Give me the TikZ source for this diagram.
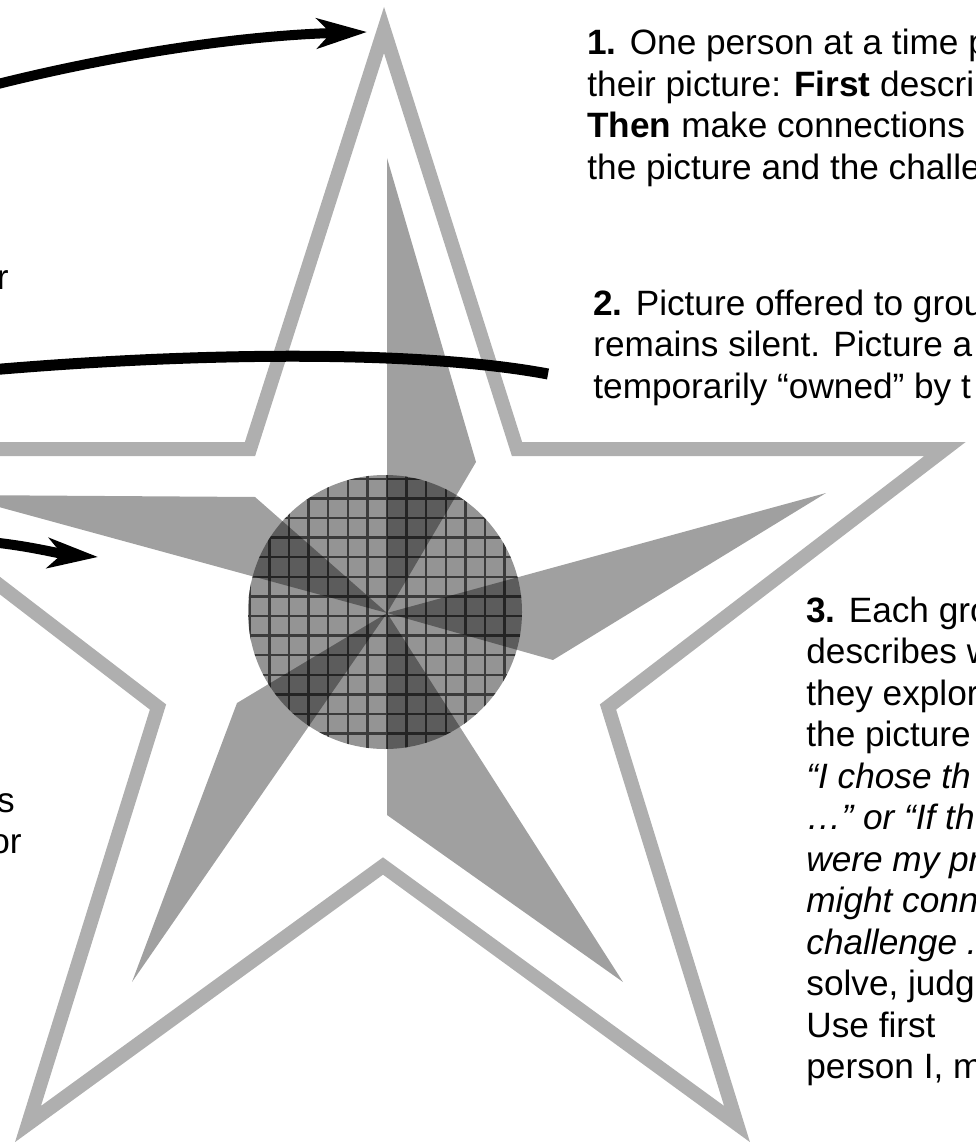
\documentclass[tikz,border=0pt]{standalone}
\usepackage{fontspec}
\setmainfont{Liberation Sans}
\usepackage{xcolor,tikz}
\usetikzlibrary{arrows.meta,positioning}
\definecolor{StarRim}{HTML}{AFAFAF}
\definecolor{StarArm}{HTML}{A0A0A0}
\definecolor{GridInk}{HTML}{000000}
\tikzset{>={Stealth[length=25pt,width=15pt,inset=7pt]},
 note/.style={font=\fontsize{17.6pt}{20.8pt}\selectfont,inner sep=0pt,anchor=base west},
 rim/.style={draw=StarRim,line width=7pt,line join=miter},
 arm/.style={fill=StarArm},
 gridline/.style={draw=GridInk,opacity=.6,line width=1.25pt},
 pointer/.style={line width=5pt}}

\begin{document}
\begin{tikzpicture}[x=0.5pt,y=-0.5pt]
\useasboundingbox (0,0) rectangle (975,1144);
\clip (0,0) rectangle (975,1144);
% outer star, pinwheel arms, then the gridded disc laid over them
\draw[rim] (384,30)--(517,449)--(945,449)--(608,707)--(737,1124)--(383,866)
 --(28,1124)--(158,707)--(-178,449)--(250,449)--cycle;
\coordinate (hub) at (387,613);
\foreach \tx/\ty/\sx/\sy in {387/158/476/462,826/493/553/660,623/982/387/815,
 132/982/237/703,-45/495/255/497}
 \fill[arm] (hub)--(\tx,\ty)--(\sx,\sy)--cycle;
\fill[black,opacity=.42] (385,612) circle[radius=68.5pt];
\begin{scope}
 \clip (385,612) circle[radius=68.5pt];
 \draw[gridline] \foreach \k in {-7,...,7}{({387+19.6*\k},470)--({387+19.6*\k},760)
  (240,{616+19.6*\k})--(530,{616+19.6*\k})};
\end{scope}
\foreach \t [count=\i from 0] in {{\textbf{1.} One person at a time p},
 {their picture: \textbf{First} descri},{\textbf{Then} make connections},
 {the picture and the challe}}
 \node[note] (one\i) at (587,{55+41.5*\i}) {\t};
\foreach \t [count=\i from 0] in {{\textbf{2.} Picture offered to grou},
 {remains silent. Picture a},{temporarily “owned” by t}}
 \node[note] (two\i) at (593,{315+41.5*\i}) {\t};
\foreach \t [count=\i from 0] in {{\textbf{3.} Each gro},{describes w},{they explor},
 {the picture},{\textit{“I chose th}},{\textit{…” or “If th}},{\textit{were my pr}},
 {\textit{might conn}},{\textit{challenge .}},{solve, judg},{Use first},{person I, m}}
 \node[note] (three\i) at (806,{622+41.5*\i}) {\t};
\node[note,anchor=base east] (lft1) at (9,290) {r};
\node[note,anchor=base east] (lft2) at (15,812) {s};
\node[note,anchor=base east] (lft3) at (22,853) {or};
\coordinate (a1) at (-10,86);
\coordinate (a1end) at (367,32);
\coordinate (a2) at (-10,370);
\coordinate (a2end) at (548,374);
\coordinate (a3) at (-10,542);
\coordinate (a3end) at (98,557);
\draw[pointer,->] (a1) .. controls (100,58) and (230,36) .. (a1end);
\draw[pointer,line width=5.5pt] (a2) .. controls (200,352) and (420,350) .. (a2end);
\draw[pointer,->] (a3) .. controls (30,546) and (60,554) .. (a3end);
\end{tikzpicture}
\end{document}
